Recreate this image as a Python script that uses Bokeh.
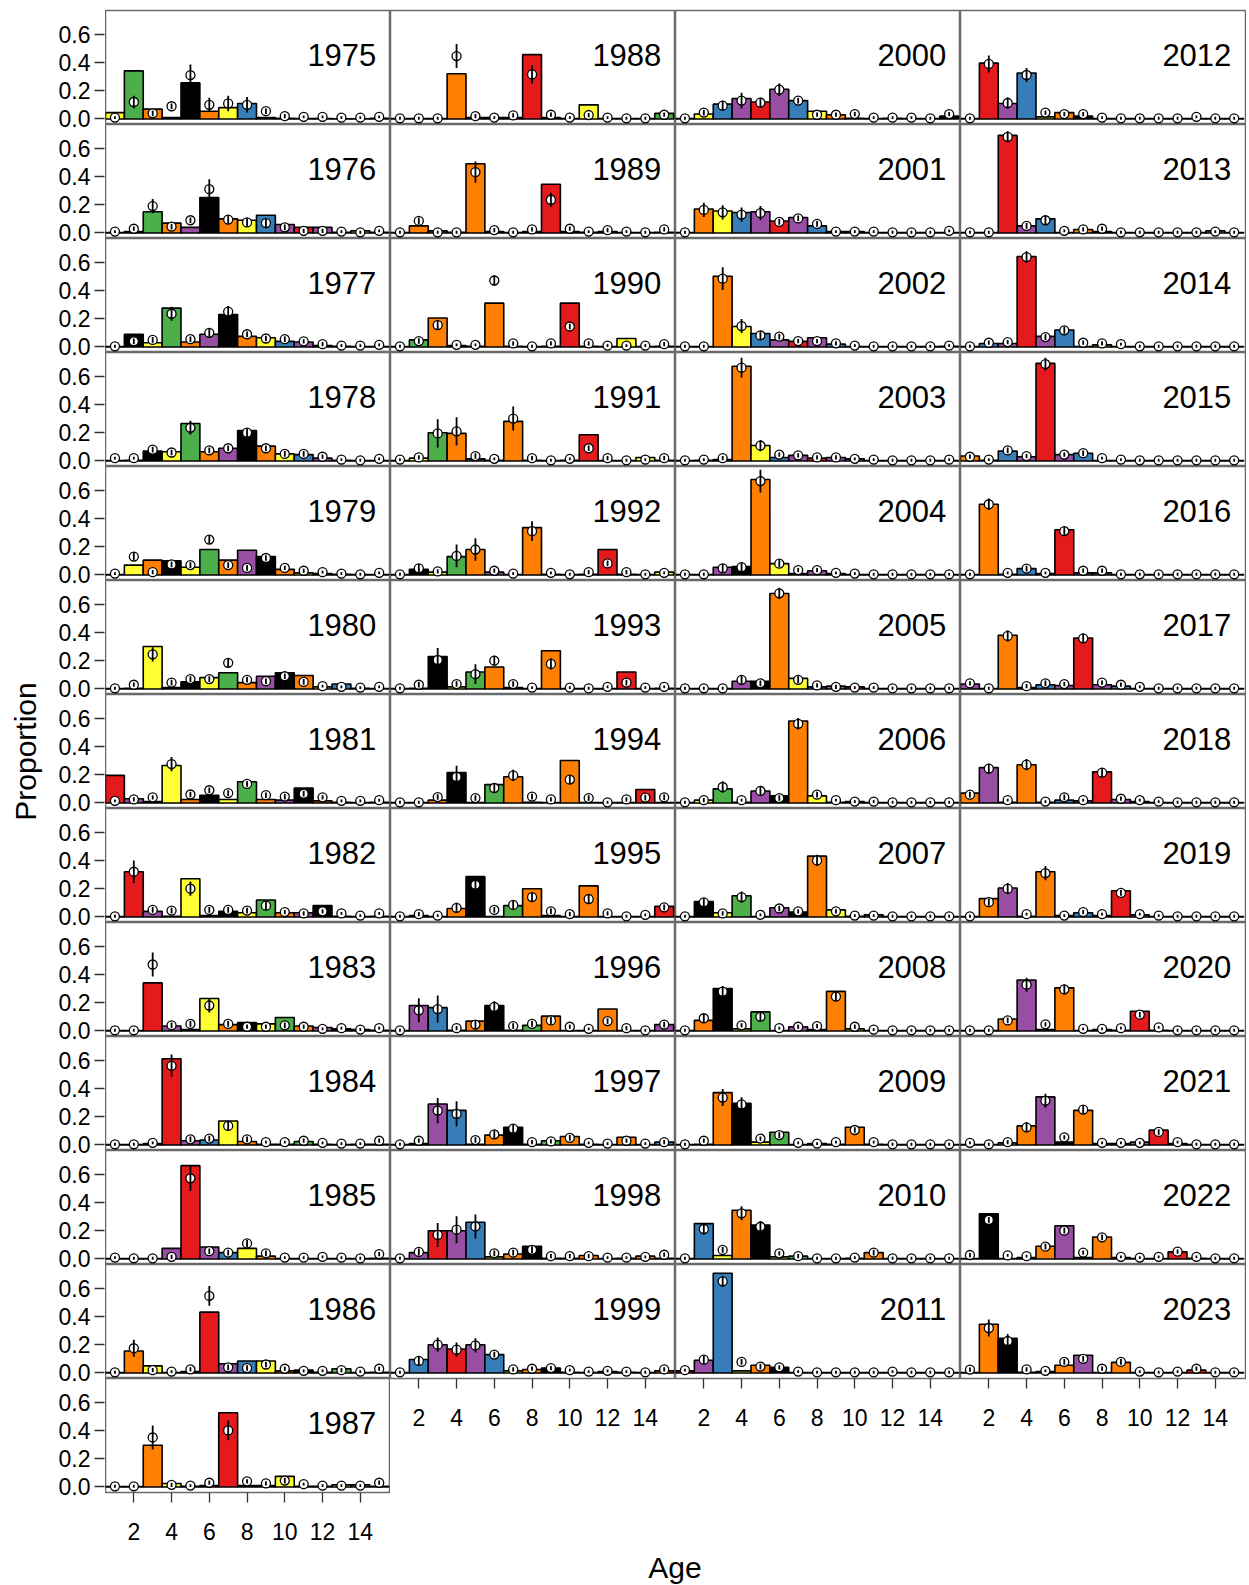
from bokeh.plotting import figure
from bokeh.layouts import column, row
from bokeh.models import (ColumnDataSource, FixedTicker, Label, Div,
                          CustomJSTickFormatter)
from bokeh.embed import file_html
from bokeh.resources import INLINE

# ---------------- data ----------------
ages = [1, 2, 3, 4, 5, 6, 7, 8, 9, 10, 11, 12, 13, 14, 15]
years = [1975, 1976, 1977, 1978, 1979, 1980, 1981, 1982, 1983, 1984, 1985, 1986, 1987,
         1988, 1989, 1990, 1991, 1992, 1993, 1994, 1995, 1996, 1997, 1998, 1999,
         2000, 2001, 2002, 2003, 2004, 2005, 2006, 2007, 2008, 2009, 2010, 2011,
         2012, 2013, 2014, 2015, 2016, 2017, 2018, 2019, 2020, 2021, 2022, 2023]
x_ticks = [2, 4, 6, 8, 10, 12, 14]
y_ticks = [0.0, 0.2, 0.4, 0.6]

# expected proportions (bars), one row per year, ages 1..15
expected = [
    [0.045, 0.34, 0.07, 0.01, 0.255, 0.055, 0.08, 0.11, 0.01, 0.005, 0.003, 0.003, 0.002, 0.002, 0.005],  # 1975
    [0.003, 0.01, 0.15, 0.07, 0.04, 0.25, 0.10, 0.09, 0.125, 0.06, 0.04, 0.04, 0.005, 0.015, 0.005],    # 1976
    [0.003, 0.09, 0.03, 0.275, 0.035, 0.09, 0.23, 0.075, 0.065, 0.04, 0.035, 0.01, 0.005, 0.003, 0.003],  # 1977
    [0.003, 0.005, 0.07, 0.065, 0.265, 0.065, 0.09, 0.215, 0.105, 0.05, 0.045, 0.02, 0.005, 0.003, 0.003],  # 1978
    [0.003, 0.07, 0.105, 0.10, 0.055, 0.18, 0.105, 0.175, 0.13, 0.04, 0.015, 0.01, 0.005, 0.003, 0.003],  # 1979
    [0.003, 0.005, 0.30, 0.01, 0.05, 0.08, 0.115, 0.045, 0.09, 0.115, 0.095, 0.015, 0.035, 0.005, 0.003],  # 1980
    [0.195, 0.03, 0.01, 0.265, 0.025, 0.055, 0.025, 0.15, 0.025, 0.02, 0.105, 0.015, 0.005, 0.003, 0.005],  # 1981
    [0.003, 0.32, 0.04, 0.005, 0.27, 0.01, 0.04, 0.03, 0.12, 0.03, 0.03, 0.08, 0.005, 0.003, 0.005],  # 1982
    [0.003, 0.003, 0.34, 0.035, 0.01, 0.23, 0.045, 0.06, 0.05, 0.095, 0.035, 0.025, 0.015, 0.01, 0.005],  # 1983
    [0.003, 0.003, 0.01, 0.61, 0.03, 0.035, 0.17, 0.025, 0.005, 0.005, 0.025, 0.005, 0.003, 0.005, 0.005],  # 1984
    [0.003, 0.003, 0.003, 0.075, 0.66, 0.085, 0.045, 0.075, 0.02, 0.003, 0.003, 0.003, 0.003, 0.003, 0.005],  # 1985
    [0.003, 0.155, 0.05, 0.003, 0.01, 0.43, 0.065, 0.085, 0.085, 0.015, 0.02, 0.005, 0.03, 0.003, 0.005],  # 1986
    [0.003, 0.003, 0.295, 0.025, 0.005, 0.01, 0.525, 0.01, 0.01, 0.075, 0.005, 0.005, 0.015, 0.015, 0.005],  # 1987
    [0.003, 0.003, 0.003, 0.32, 0.01, 0.01, 0.01, 0.455, 0.01, 0.003, 0.10, 0.003, 0.003, 0.003, 0.04],  # 1988
    [0.003, 0.05, 0.015, 0.005, 0.49, 0.01, 0.003, 0.01, 0.345, 0.01, 0.005, 0.01, 0.003, 0.003, 0.005],  # 1989
    [0.003, 0.05, 0.205, 0.01, 0.005, 0.31, 0.005, 0.003, 0.005, 0.31, 0.005, 0.003, 0.06, 0.003, 0.005],  # 1990
    [0.003, 0.02, 0.20, 0.195, 0.015, 0.005, 0.28, 0.005, 0.003, 0.005, 0.185, 0.003, 0.003, 0.025, 0.005],  # 1991
    [0.003, 0.04, 0.02, 0.13, 0.18, 0.02, 0.003, 0.335, 0.005, 0.003, 0.005, 0.18, 0.005, 0.003, 0.02],  # 1992
    [0.003, 0.005, 0.23, 0.015, 0.12, 0.155, 0.01, 0.003, 0.27, 0.003, 0.003, 0.003, 0.12, 0.003, 0.005],  # 1993
    [0.003, 0.003, 0.02, 0.215, 0.003, 0.13, 0.185, 0.005, 0.003, 0.30, 0.003, 0.003, 0.003, 0.095, 0.003],  # 1994
    [0.003, 0.01, 0.003, 0.06, 0.285, 0.003, 0.08, 0.20, 0.01, 0.003, 0.22, 0.003, 0.003, 0.003, 0.075],  # 1995
    [0.003, 0.18, 0.165, 0.005, 0.07, 0.18, 0.005, 0.04, 0.105, 0.003, 0.003, 0.155, 0.003, 0.003, 0.045],  # 1996
    [0.003, 0.01, 0.29, 0.245, 0.005, 0.07, 0.125, 0.005, 0.03, 0.06, 0.005, 0.003, 0.055, 0.003, 0.02],  # 1997
    [0.003, 0.045, 0.20, 0.20, 0.26, 0.015, 0.035, 0.09, 0.005, 0.005, 0.025, 0.003, 0.005, 0.02, 0.005],  # 1998
    [0.003, 0.095, 0.20, 0.17, 0.20, 0.13, 0.015, 0.025, 0.035, 0.005, 0.003, 0.01, 0.005, 0.003, 0.015],  # 1999
    [0.003, 0.035, 0.105, 0.145, 0.12, 0.21, 0.13, 0.055, 0.03, 0.005, 0.003, 0.005, 0.003, 0.003, 0.02],  # 2000
    [0.003, 0.17, 0.155, 0.145, 0.15, 0.085, 0.11, 0.05, 0.01, 0.01, 0.003, 0.003, 0.003, 0.003, 0.003],  # 2001
    [0.003, 0.003, 0.50, 0.145, 0.095, 0.05, 0.04, 0.065, 0.02, 0.003, 0.003, 0.003, 0.003, 0.003, 0.005],  # 2002
    [0.003, 0.005, 0.01, 0.67, 0.11, 0.025, 0.04, 0.02, 0.025, 0.015, 0.003, 0.003, 0.003, 0.003, 0.003],  # 2003
    [0.003, 0.003, 0.055, 0.06, 0.675, 0.08, 0.01, 0.03, 0.01, 0.003, 0.003, 0.003, 0.003, 0.003, 0.003],  # 2004
    [0.003, 0.003, 0.003, 0.055, 0.055, 0.675, 0.075, 0.015, 0.02, 0.015, 0.003, 0.003, 0.003, 0.003, 0.003],  # 2005
    [0.003, 0.02, 0.10, 0.005, 0.085, 0.05, 0.58, 0.05, 0.005, 0.01, 0.003, 0.003, 0.003, 0.003, 0.003],  # 2006
    [0.003, 0.11, 0.03, 0.15, 0.003, 0.065, 0.035, 0.43, 0.05, 0.005, 0.015, 0.003, 0.003, 0.003, 0.003],  # 2007
    [0.003, 0.075, 0.30, 0.015, 0.135, 0.003, 0.03, 0.01, 0.28, 0.015, 0.003, 0.003, 0.003, 0.003, 0.003],  # 2008
    [0.003, 0.005, 0.37, 0.295, 0.02, 0.09, 0.003, 0.01, 0.005, 0.125, 0.005, 0.003, 0.003, 0.003, 0.003],  # 2009
    [0.003, 0.25, 0.025, 0.345, 0.24, 0.015, 0.02, 0.003, 0.003, 0.005, 0.045, 0.003, 0.003, 0.003, 0.003],  # 2010
    [0.015, 0.09, 0.705, 0.015, 0.055, 0.04, 0.003, 0.003, 0.003, 0.003, 0.003, 0.003, 0.003, 0.003, 0.003],  # 2011
    [0.003, 0.395, 0.11, 0.325, 0.015, 0.045, 0.02, 0.003, 0.003, 0.003, 0.003, 0.003, 0.003, 0.003, 0.003],  # 2012
    [0.003, 0.003, 0.69, 0.05, 0.10, 0.003, 0.025, 0.01, 0.003, 0.003, 0.003, 0.003, 0.003, 0.015, 0.003],  # 2013
    [0.003, 0.025, 0.025, 0.64, 0.075, 0.12, 0.003, 0.015, 0.003, 0.003, 0.003, 0.003, 0.003, 0.003, 0.003],  # 2014
    [0.035, 0.005, 0.07, 0.03, 0.69, 0.045, 0.055, 0.003, 0.003, 0.003, 0.003, 0.003, 0.003, 0.003, 0.003],  # 2015
    [0.003, 0.50, 0.005, 0.045, 0.01, 0.32, 0.015, 0.015, 0.003, 0.003, 0.003, 0.003, 0.003, 0.003, 0.003],  # 2016
    [0.035, 0.003, 0.38, 0.01, 0.03, 0.025, 0.36, 0.03, 0.02, 0.003, 0.003, 0.003, 0.003, 0.003, 0.003],  # 2017
    [0.07, 0.25, 0.005, 0.27, 0.005, 0.02, 0.015, 0.22, 0.025, 0.01, 0.003, 0.003, 0.003, 0.003, 0.003],  # 2018
    [0.003, 0.13, 0.205, 0.005, 0.32, 0.01, 0.03, 0.01, 0.185, 0.015, 0.003, 0.003, 0.003, 0.003, 0.003],  # 2019
    [0.003, 0.003, 0.085, 0.36, 0.01, 0.305, 0.003, 0.01, 0.005, 0.14, 0.005, 0.003, 0.003, 0.003, 0.003],  # 2020
    [0.003, 0.003, 0.015, 0.135, 0.34, 0.02, 0.245, 0.01, 0.01, 0.02, 0.105, 0.01, 0.003, 0.003, 0.003],  # 2021
    [0.003, 0.32, 0.003, 0.01, 0.09, 0.235, 0.01, 0.155, 0.01, 0.003, 0.003, 0.05, 0.005, 0.003, 0.003],  # 2022
    [0.003, 0.345, 0.245, 0.005, 0.01, 0.055, 0.125, 0.003, 0.075, 0.003, 0.003, 0.003, 0.02, 0.003, 0.003],  # 2023
]

# observed proportions (open circles)
observed = [
    [0.01, 0.12, 0.04, 0.09, 0.31, 0.10, 0.11, 0.10, 0.055, 0.02, 0.015, 0.015, 0.01, 0.01, 0.015],  # 1975
    [0.01, 0.03, 0.19, 0.045, 0.09, 0.31, 0.095, 0.075, 0.07, 0.04, 0.015, 0.015, 0.01, 0.005, 0.015],  # 1976
    [0.005, 0.04, 0.05, 0.235, 0.055, 0.10, 0.25, 0.09, 0.06, 0.055, 0.04, 0.02, 0.01, 0.01, 0.015],  # 1977
    [0.02, 0.02, 0.08, 0.06, 0.235, 0.075, 0.09, 0.20, 0.09, 0.05, 0.05, 0.03, 0.01, 0.005, 0.015],  # 1978
    [0.01, 0.13, 0.02, 0.075, 0.07, 0.25, 0.07, 0.05, 0.12, 0.05, 0.03, 0.02, 0.01, 0.005, 0.015],  # 1979
    [0.005, 0.03, 0.245, 0.045, 0.07, 0.07, 0.185, 0.065, 0.055, 0.09, 0.05, 0.02, 0.015, 0.01, 0.015],  # 1980
    [0.015, 0.025, 0.04, 0.275, 0.06, 0.09, 0.07, 0.135, 0.055, 0.045, 0.065, 0.04, 0.015, 0.015, 0.02],  # 1981
    [0.005, 0.32, 0.05, 0.045, 0.20, 0.05, 0.05, 0.045, 0.08, 0.035, 0.025, 0.04, 0.025, 0.01, 0.025],  # 1982
    [0.005, 0.005, 0.47, 0.04, 0.05, 0.18, 0.05, 0.03, 0.03, 0.04, 0.03, 0.015, 0.02, 0.01, 0.02],  # 1983
    [0.005, 0.005, 0.015, 0.56, 0.04, 0.045, 0.135, 0.04, 0.02, 0.02, 0.03, 0.015, 0.01, 0.01, 0.03],  # 1984
    [0.01, 0.005, 0.005, 0.015, 0.57, 0.055, 0.045, 0.11, 0.04, 0.01, 0.01, 0.015, 0.01, 0.005, 0.035],  # 1985
    [0.005, 0.175, 0.02, 0.01, 0.025, 0.545, 0.04, 0.035, 0.06, 0.03, 0.015, 0.015, 0.02, 0.01, 0.03],  # 1986
    [0.005, 0.005, 0.35, 0.015, 0.01, 0.03, 0.40, 0.04, 0.025, 0.045, 0.02, 0.01, 0.01, 0.01, 0.03],  # 1987
    [0.005, 0.005, 0.005, 0.445, 0.02, 0.01, 0.025, 0.315, 0.03, 0.01, 0.028, 0.01, 0.005, 0.005, 0.03],  # 1988
    [0.005, 0.085, 0.005, 0.005, 0.43, 0.02, 0.005, 0.025, 0.235, 0.03, 0.01, 0.02, 0.01, 0.005, 0.025],  # 1989
    [0.005, 0.042, 0.155, 0.015, 0.015, 0.47, 0.025, 0.005, 0.025, 0.145, 0.025, 0.01, 0.01, 0.01, 0.02],  # 1990
    [0.01, 0.025, 0.195, 0.21, 0.035, 0.015, 0.30, 0.02, 0.005, 0.015, 0.09, 0.02, 0.005, 0.01, 0.02],  # 1991
    [0.005, 0.047, 0.025, 0.135, 0.18, 0.03, 0.01, 0.31, 0.015, 0.005, 0.02, 0.082, 0.02, 0.005, 0.015],  # 1992
    [0.005, 0.03, 0.205, 0.035, 0.105, 0.20, 0.035, 0.01, 0.177, 0.01, 0.005, 0.015, 0.045, 0.01, 0.015],  # 1993
    [0.005, 0.005, 0.042, 0.184, 0.035, 0.106, 0.195, 0.045, 0.025, 0.165, 0.035, 0.005, 0.025, 0.038, 0.04],  # 1994
    [0.005, 0.02, 0.01, 0.065, 0.228, 0.05, 0.085, 0.141, 0.04, 0.02, 0.127, 0.025, 0.005, 0.015, 0.068],  # 1995
    [0.005, 0.146, 0.155, 0.02, 0.045, 0.17, 0.035, 0.05, 0.075, 0.03, 0.015, 0.07, 0.02, 0.005, 0.045],  # 1996
    [0.005, 0.03, 0.243, 0.22, 0.035, 0.075, 0.115, 0.02, 0.025, 0.05, 0.015, 0.01, 0.03, 0.01, 0.02],  # 1997
    [0.005, 0.05, 0.17, 0.207, 0.23, 0.04, 0.045, 0.065, 0.02, 0.02, 0.02, 0.01, 0.01, 0.015, 0.03],  # 1998
    [0.005, 0.085, 0.20, 0.165, 0.195, 0.13, 0.025, 0.03, 0.035, 0.02, 0.01, 0.015, 0.01, 0.005, 0.025],  # 1999
    [0.005, 0.045, 0.094, 0.13, 0.115, 0.207, 0.13, 0.03, 0.03, 0.035, 0.01, 0.01, 0.01, 0.005, 0.035],  # 2000
    [0.005, 0.163, 0.146, 0.13, 0.14, 0.078, 0.103, 0.064, 0.01, 0.01, 0.01, 0.005, 0.005, 0.005, 0.015],  # 2001
    [0.005, 0.005, 0.483, 0.148, 0.082, 0.073, 0.042, 0.042, 0.026, 0.01, 0.005, 0.005, 0.005, 0.005, 0.01],  # 2002
    [0.005, 0.01, 0.02, 0.66, 0.108, 0.045, 0.04, 0.025, 0.025, 0.015, 0.01, 0.005, 0.005, 0.005, 0.01],  # 2003
    [0.005, 0.005, 0.047, 0.055, 0.664, 0.08, 0.035, 0.035, 0.015, 0.01, 0.005, 0.005, 0.005, 0.005, 0.005],  # 2004
    [0.005, 0.005, 0.005, 0.065, 0.04, 0.676, 0.065, 0.025, 0.015, 0.01, 0.01, 0.005, 0.005, 0.005, 0.005],  # 2005
    [0.005, 0.02, 0.113, 0.02, 0.085, 0.035, 0.56, 0.059, 0.02, 0.01, 0.01, 0.005, 0.005, 0.005, 0.005],  # 2006
    [0.005, 0.104, 0.025, 0.141, 0.015, 0.06, 0.04, 0.40, 0.04, 0.01, 0.01, 0.005, 0.005, 0.005, 0.005],  # 2007
    [0.005, 0.09, 0.278, 0.04, 0.10, 0.02, 0.03, 0.035, 0.243, 0.03, 0.01, 0.005, 0.005, 0.005, 0.005],  # 2008
    [0.005, 0.03, 0.335, 0.287, 0.045, 0.07, 0.015, 0.01, 0.02, 0.106, 0.02, 0.005, 0.005, 0.005, 0.005],  # 2009
    [0.005, 0.212, 0.064, 0.323, 0.228, 0.04, 0.02, 0.005, 0.005, 0.01, 0.045, 0.005, 0.005, 0.005, 0.005],  # 2010
    [0.02, 0.094, 0.648, 0.078, 0.045, 0.04, 0.01, 0.005, 0.005, 0.005, 0.005, 0.01, 0.005, 0.005, 0.005],  # 2011
    [0.005, 0.389, 0.113, 0.311, 0.045, 0.035, 0.035, 0.01, 0.005, 0.005, 0.005, 0.005, 0.015, 0.005, 0.005],  # 2012
    [0.005, 0.005, 0.68, 0.05, 0.09, 0.015, 0.025, 0.03, 0.005, 0.005, 0.005, 0.005, 0.005, 0.01, 0.005],  # 2013
    [0.005, 0.03, 0.035, 0.636, 0.07, 0.118, 0.03, 0.025, 0.02, 0.005, 0.005, 0.005, 0.005, 0.005, 0.005],  # 2014
    [0.03, 0.01, 0.075, 0.035, 0.685, 0.045, 0.055, 0.02, 0.01, 0.005, 0.005, 0.005, 0.005, 0.005, 0.005],  # 2015
    [0.005, 0.50, 0.015, 0.045, 0.015, 0.31, 0.03, 0.03, 0.005, 0.005, 0.005, 0.005, 0.005, 0.005, 0.005],  # 2016
    [0.04, 0.005, 0.375, 0.02, 0.04, 0.035, 0.358, 0.045, 0.03, 0.015, 0.005, 0.005, 0.005, 0.005, 0.005],  # 2017
    [0.059, 0.243, 0.02, 0.271, 0.01, 0.04, 0.02, 0.214, 0.03, 0.02, 0.01, 0.005, 0.005, 0.005, 0.005],  # 2018
    [0.005, 0.105, 0.20, 0.02, 0.31, 0.01, 0.035, 0.02, 0.17, 0.02, 0.01, 0.005, 0.005, 0.005, 0.005],  # 2019
    [0.005, 0.005, 0.075, 0.327, 0.047, 0.294, 0.015, 0.015, 0.02, 0.115, 0.025, 0.005, 0.005, 0.005, 0.005],  # 2020
    [0.015, 0.005, 0.02, 0.125, 0.313, 0.054, 0.25, 0.015, 0.015, 0.015, 0.092, 0.02, 0.005, 0.005, 0.005],  # 2021
    [0.028, 0.276, 0.025, 0.02, 0.087, 0.20, 0.045, 0.153, 0.015, 0.01, 0.015, 0.052, 0.015, 0.005, 0.005],  # 2022
    [0.024, 0.318, 0.226, 0.025, 0.015, 0.078, 0.10, 0.03, 0.078, 0.01, 0.005, 0.01, 0.03, 0.005, 0.005],  # 2023
]

# half-length of the error bars on the observations
obs_err = [
    [0.01, 0.045, 0.02, 0.02, 0.075, 0.05, 0.055, 0.055, 0.02, 0.015, 0.01, 0.01, 0.01, 0.01, 0.01],  # 1975
    [0.01, 0.015, 0.05, 0.02, 0.02, 0.07, 0.03, 0.03, 0.03, 0.02, 0.015, 0.015, 0.01, 0.01, 0.01],  # 1976
    [0.01, 0.02, 0.02, 0.05, 0.02, 0.03, 0.04, 0.02, 0.02, 0.02, 0.015, 0.015, 0.01, 0.01, 0.01],  # 1977
    [0.01, 0.01, 0.02, 0.02, 0.05, 0.02, 0.02, 0.03, 0.02, 0.02, 0.02, 0.015, 0.01, 0.01, 0.01],  # 1978
    [0.01, 0.03, 0.015, 0.02, 0.02, 0.03, 0.02, 0.02, 0.02, 0.015, 0.015, 0.01, 0.01, 0.01, 0.01],  # 1979
    [0.01, 0.015, 0.05, 0.02, 0.02, 0.02, 0.03, 0.02, 0.02, 0.02, 0.02, 0.01, 0.01, 0.01, 0.01],  # 1980
    [0.01, 0.015, 0.015, 0.05, 0.02, 0.02, 0.02, 0.02, 0.02, 0.02, 0.02, 0.015, 0.01, 0.01, 0.01],  # 1981
    [0.01, 0.08, 0.02, 0.02, 0.05, 0.02, 0.02, 0.02, 0.03, 0.015, 0.015, 0.015, 0.01, 0.01, 0.01],  # 1982
    [0.01, 0.01, 0.085, 0.02, 0.02, 0.05, 0.02, 0.015, 0.015, 0.02, 0.015, 0.01, 0.01, 0.01, 0.01],  # 1983
    [0.01, 0.01, 0.01, 0.08, 0.02, 0.02, 0.03, 0.02, 0.01, 0.01, 0.015, 0.01, 0.01, 0.01, 0.015],  # 1984
    [0.01, 0.01, 0.01, 0.015, 0.09, 0.02, 0.02, 0.025, 0.02, 0.01, 0.01, 0.01, 0.01, 0.01, 0.015],  # 1985
    [0.01, 0.06, 0.015, 0.01, 0.015, 0.07, 0.02, 0.02, 0.02, 0.015, 0.01, 0.01, 0.015, 0.01, 0.015],  # 1986
    [0.01, 0.01, 0.085, 0.015, 0.01, 0.015, 0.07, 0.015, 0.015, 0.02, 0.01, 0.01, 0.01, 0.01, 0.015],  # 1987
    [0.01, 0.01, 0.01, 0.085, 0.015, 0.01, 0.015, 0.065, 0.015, 0.01, 0.015, 0.01, 0.01, 0.01, 0.015],  # 1988
    [0.01, 0.025, 0.01, 0.01, 0.075, 0.015, 0.01, 0.015, 0.05, 0.015, 0.01, 0.015, 0.01, 0.01, 0.015],  # 1989
    [0.01, 0.02, 0.035, 0.01, 0.01, 0.035, 0.015, 0.01, 0.015, 0.02, 0.015, 0.01, 0.01, 0.01, 0.015],  # 1990
    [0.01, 0.015, 0.10, 0.10, 0.02, 0.01, 0.085, 0.015, 0.01, 0.01, 0.02, 0.015, 0.01, 0.01, 0.015],  # 1991
    [0.01, 0.03, 0.015, 0.08, 0.08, 0.015, 0.01, 0.07, 0.01, 0.01, 0.015, 0.02, 0.015, 0.01, 0.01],  # 1992
    [0.01, 0.02, 0.085, 0.02, 0.07, 0.035, 0.02, 0.01, 0.04, 0.01, 0.01, 0.01, 0.02, 0.01, 0.01],  # 1993
    [0.01, 0.01, 0.02, 0.08, 0.02, 0.03, 0.04, 0.02, 0.015, 0.03, 0.02, 0.01, 0.015, 0.02, 0.02],  # 1994
    [0.01, 0.015, 0.01, 0.035, 0.05, 0.02, 0.03, 0.03, 0.02, 0.015, 0.03, 0.015, 0.01, 0.01, 0.02],  # 1995
    [0.01, 0.085, 0.095, 0.015, 0.03, 0.04, 0.02, 0.02, 0.025, 0.015, 0.01, 0.02, 0.015, 0.01, 0.02],  # 1996
    [0.01, 0.015, 0.09, 0.09, 0.02, 0.03, 0.03, 0.015, 0.015, 0.02, 0.01, 0.01, 0.015, 0.01, 0.015],  # 1997
    [0.01, 0.025, 0.085, 0.095, 0.085, 0.02, 0.02, 0.025, 0.015, 0.015, 0.015, 0.01, 0.01, 0.01, 0.015],  # 1998
    [0.01, 0.03, 0.05, 0.05, 0.05, 0.02, 0.015, 0.015, 0.015, 0.01, 0.01, 0.01, 0.01, 0.01, 0.015],  # 1999
    [0.01, 0.02, 0.035, 0.055, 0.035, 0.045, 0.02, 0.015, 0.015, 0.015, 0.01, 0.01, 0.01, 0.01, 0.015],  # 2000
    [0.01, 0.05, 0.05, 0.05, 0.05, 0.02, 0.02, 0.02, 0.01, 0.01, 0.01, 0.01, 0.01, 0.01, 0.01],  # 2001
    [0.01, 0.01, 0.08, 0.05, 0.03, 0.02, 0.015, 0.015, 0.015, 0.01, 0.01, 0.01, 0.01, 0.01, 0.01],  # 2002
    [0.01, 0.01, 0.015, 0.07, 0.04, 0.015, 0.015, 0.015, 0.015, 0.01, 0.01, 0.01, 0.01, 0.01, 0.01],  # 2003
    [0.01, 0.01, 0.03, 0.03, 0.08, 0.025, 0.015, 0.015, 0.01, 0.01, 0.01, 0.01, 0.01, 0.01, 0.01],  # 2004
    [0.01, 0.01, 0.01, 0.03, 0.02, 0.04, 0.025, 0.015, 0.015, 0.01, 0.01, 0.01, 0.01, 0.01, 0.01],  # 2005
    [0.01, 0.015, 0.04, 0.01, 0.03, 0.02, 0.04, 0.02, 0.01, 0.01, 0.01, 0.01, 0.01, 0.01, 0.01],  # 2006
    [0.01, 0.03, 0.015, 0.04, 0.01, 0.02, 0.015, 0.04, 0.015, 0.01, 0.01, 0.01, 0.01, 0.01, 0.01],  # 2007
    [0.01, 0.03, 0.04, 0.015, 0.03, 0.01, 0.015, 0.015, 0.03, 0.015, 0.01, 0.01, 0.01, 0.01, 0.01],  # 2008
    [0.01, 0.015, 0.06, 0.05, 0.015, 0.02, 0.01, 0.01, 0.01, 0.02, 0.01, 0.01, 0.01, 0.01, 0.01],  # 2009
    [0.01, 0.04, 0.02, 0.05, 0.04, 0.015, 0.015, 0.01, 0.01, 0.01, 0.02, 0.01, 0.01, 0.01, 0.01],  # 2010
    [0.01, 0.03, 0.04, 0.02, 0.02, 0.015, 0.01, 0.01, 0.01, 0.01, 0.01, 0.01, 0.01, 0.01, 0.01],  # 2011
    [0.01, 0.06, 0.04, 0.05, 0.015, 0.015, 0.015, 0.01, 0.01, 0.01, 0.01, 0.01, 0.01, 0.01, 0.01],  # 2012
    [0.01, 0.01, 0.04, 0.02, 0.03, 0.01, 0.015, 0.015, 0.01, 0.01, 0.01, 0.01, 0.01, 0.01, 0.01],  # 2013
    [0.01, 0.015, 0.015, 0.04, 0.02, 0.025, 0.015, 0.015, 0.01, 0.01, 0.01, 0.01, 0.01, 0.01, 0.01],  # 2014
    [0.015, 0.01, 0.02, 0.015, 0.045, 0.015, 0.02, 0.01, 0.01, 0.01, 0.01, 0.01, 0.01, 0.01, 0.01],  # 2015
    [0.01, 0.04, 0.01, 0.02, 0.01, 0.03, 0.015, 0.015, 0.01, 0.01, 0.01, 0.01, 0.01, 0.01, 0.01],  # 2016
    [0.015, 0.01, 0.04, 0.015, 0.02, 0.015, 0.035, 0.015, 0.015, 0.01, 0.01, 0.01, 0.01, 0.01, 0.01],  # 2017
    [0.02, 0.035, 0.01, 0.04, 0.01, 0.02, 0.01, 0.03, 0.015, 0.01, 0.01, 0.01, 0.01, 0.01, 0.01],  # 2018
    [0.01, 0.025, 0.04, 0.01, 0.05, 0.01, 0.015, 0.01, 0.02, 0.01, 0.01, 0.01, 0.01, 0.01, 0.01],  # 2019
    [0.01, 0.01, 0.02, 0.05, 0.015, 0.035, 0.01, 0.01, 0.01, 0.02, 0.01, 0.01, 0.01, 0.01, 0.01],  # 2020
    [0.01, 0.01, 0.015, 0.035, 0.05, 0.015, 0.03, 0.01, 0.01, 0.01, 0.02, 0.01, 0.01, 0.01, 0.01],  # 2021
    [0.015, 0.02, 0.01, 0.01, 0.02, 0.02, 0.015, 0.02, 0.01, 0.01, 0.01, 0.015, 0.01, 0.01, 0.01],  # 2022
    [0.015, 0.06, 0.05, 0.015, 0.01, 0.02, 0.02, 0.015, 0.02, 0.01, 0.01, 0.01, 0.015, 0.01, 0.01],  # 2023
]

# ---------------- style ----------------
RED, BLUE, GREEN, PURPLE = "#E41A1C", "#377EB8", "#4DAF4A", "#984EA3"
ORANGE, YELLOW, BLACK = "#FF7F00", "#FFFF33", "#000000"
# colour of a cohort (year class), repeating every 15 year classes starting at 1980
cohort_palette = [RED, PURPLE, BLUE, YELLOW, ORANGE, BLACK, PURPLE, ORANGE,
                  GREEN, YELLOW, BLACK, ORANGE, YELLOW, BLUE, PURPLE]

FONT = "Liberation Sans"
FW, FH = 285, 114
TOP = 10
LEFT = 105
BOTTOM_AXIS = 66
Y0, Y1 = -0.039, 0.767
SPAN = Y1 - Y0
col_years = [years[0:13], years[13:25], years[25:37], years[37:49]]
N_ROWS0 = len(col_years[0])
TICK_COLOR = "#333333"


def style_axis(ax, standoff):
    ax.axis_line_color = None
    ax.major_tick_in = 0
    ax.major_tick_out = 10
    ax.major_tick_line_color = TICK_COLOR
    ax.major_tick_line_width = 1.3
    ax.minor_tick_line_color = None
    ax.major_label_standoff = standoff
    ax.major_label_text_font = FONT
    ax.major_label_text_font_size = "23px"
    ax.major_label_text_color = "black"


def make_panel(year, ci, ri, n_rows):
    idx = years.index(year)
    bottom = ri == n_rows - 1
    p = figure(frame_width=FW, frame_height=FH,
               x_range=(0.5, 15.6), y_range=(Y0, Y1),
               output_backend="svg", toolbar_location=None, tools="",
               x_axis_location="below" if bottom else None,
               y_axis_location=None,
               min_border_left=0,
               min_border_right=1 if ci == 3 else 0,
               min_border_top=TOP if ri == 0 else 0,
               min_border_bottom=BOTTOM_AXIS if bottom else 0)
    p.xgrid.visible = False
    p.ygrid.visible = False
    p.outline_line_color = "#6a6a6a"
    p.outline_line_width = 1.5
    p.background_fill_color = "white"
    p.border_fill_color = "white"

    obs = observed[idx]
    err = obs_err[idx]
    src = ColumnDataSource(dict(
        age=ages,
        exp=expected[idx],
        obs=obs,
        lo=[o - e for o, e in zip(obs, err)],
        hi=[o + e for o, e in zip(obs, err)],
        color=[cohort_palette[(year - a - 1980) % 15] for a in ages],
    ))
    p.vbar(x="age", top="exp", bottom=0, width=1.0, fill_color="color",
           line_color="black", line_width=1.6, source=src)
    p.scatter(x="age", y="obs", size=9, marker="circle", fill_color="white",
              line_color="black", line_width=1.3, source=src)
    p.segment(x0="age", y0="lo", x1="age", y1="hi", line_color="black",
              line_width=1.8, source=src)

    p.add_layout(Label(x=14.85, y=0.453, text=str(year), text_align="right",
                       text_baseline="middle", text_font_size="31px",
                       text_font=FONT, text_color="black"))

    if bottom:
        ax = p.xaxis[0]
        ax.ticker = FixedTicker(ticks=x_ticks, minor_ticks=[])
        style_axis(ax, 20)
    return p


# shared y axis for the first column of panels: one axis stacked over the 13 rows
yfig = figure(frame_width=1, frame_height=FH * N_ROWS0,
              x_range=(0, 1), y_range=(Y0 - (N_ROWS0 - 1) * SPAN, Y1),
              output_backend="svg", toolbar_location=None, tools="",
              x_axis_location=None, y_axis_location="left",
              min_border_left=LEFT - 1, min_border_right=0,
              min_border_top=TOP, min_border_bottom=20)
yfig.xgrid.visible = False
yfig.ygrid.visible = False
yfig.outline_line_color = None
yfig.background_fill_color = "white"
yfig.border_fill_color = "white"
yax = yfig.yaxis[0]
yax.ticker = FixedTicker(ticks=[v - k * SPAN for k in range(N_ROWS0) for v in y_ticks],
                         minor_ticks=[])
yax.formatter = CustomJSTickFormatter(args=dict(span=SPAN), code="""
    const k = Math.floor((0.7 - tick) / span);
    const v = Math.round((tick + k * span) * 10) / 10;
    return v.toFixed(1);
""")
style_axis(yax, 4)
yax.axis_label = "Proportion"
yax.axis_label_text_font = FONT
yax.axis_label_text_font_size = "30px"
yax.axis_label_text_font_style = "normal"
yax.axis_label_text_color = "black"
yax.axis_label_standoff = 14

columns = [yfig]
for ci, yrs in enumerate(col_years):
    figs = [make_panel(y, ci, ri, len(yrs)) for ri, y in enumerate(yrs)]
    columns.append(column(*figs, spacing=0))

grid = row(*columns, spacing=0)
age_label = Div(text="Age", width=4 * FW, height=24, margin=(0, 0, 0, LEFT),
                styles={"font-size": "30px", "font-family": FONT,
                        "text-align": "center", "line-height": "20px",
                        "color": "black", "overflow": "visible"})
layout = column(grid, age_label, spacing=0)

open("out.html", "w").write(file_html(layout, INLINE))
